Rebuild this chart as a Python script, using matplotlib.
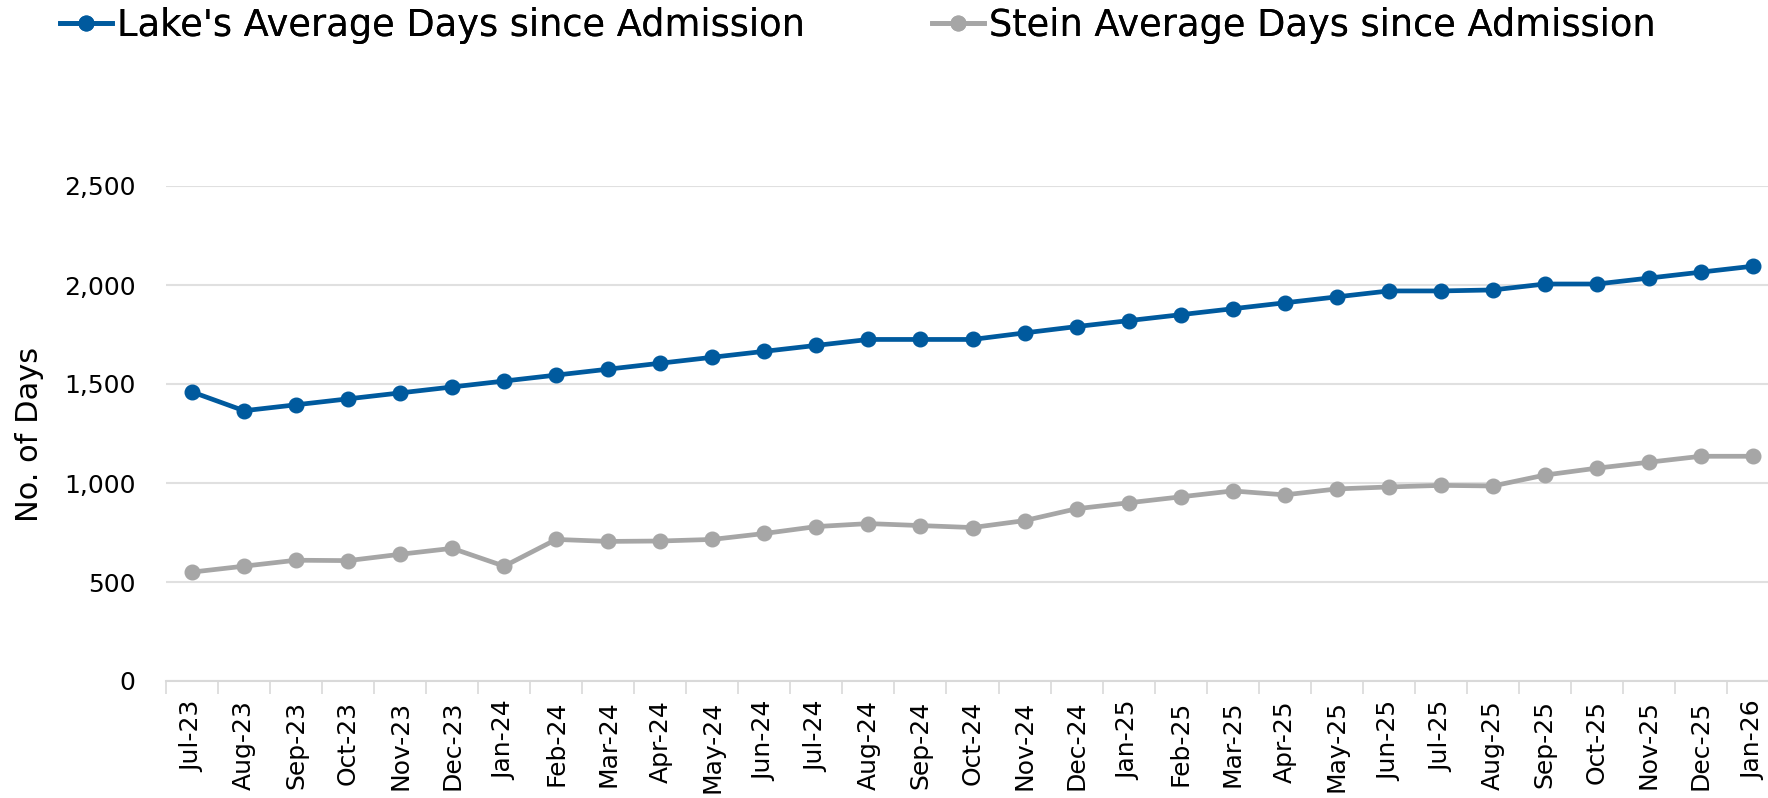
import numpy as np
import matplotlib
matplotlib.use("Agg")
import matplotlib.pyplot as plt
from matplotlib.lines import Line2D
from matplotlib.ticker import FuncFormatter, FixedLocator

months = ["Jul-23", "Aug-23", "Sep-23", "Oct-23", "Nov-23", "Dec-23",
          "Jan-24", "Feb-24", "Mar-24", "Apr-24", "May-24", "Jun-24",
          "Jul-24", "Aug-24", "Sep-24", "Oct-24", "Nov-24", "Dec-24",
          "Jan-25", "Feb-25", "Mar-25", "Apr-25", "May-25", "Jun-25",
          "Jul-25", "Aug-25", "Sep-25", "Oct-25", "Nov-25", "Dec-25",
          "Jan-26"]

lake_days = [1460, 1365, 1395, 1425, 1455, 1485, 1515, 1545, 1575, 1605,
             1635, 1665, 1695, 1725, 1725, 1725, 1758, 1790, 1820, 1850,
             1880, 1910, 1940, 1970, 1970, 1975, 2005, 2005, 2035, 2065,
             2095]

stein_days = [550, 580, 610, 608, 640, 670, 580, 715, 705, 707,
              715, 745, 780, 795, 785, 775, 810, 870, 900, 930,
              960, 940, 970, 980, 988, 985, 1040, 1075, 1105, 1135,
              1135]

blue = "#005a9e"
grey = "#a6a6a6"

plt.rcParams["font.family"] = ["DejaVu Sans"]

fig = plt.figure(figsize=(17.68, 7.98), dpi=100)
# axes runs a little past the right edge of the figure, as in the original
ax = fig.add_axes([166 / 1768, 1 - 681 / 798, (1779 - 166) / 1768, (681 - 186) / 798])

x = np.arange(len(months))
ax.plot(x, lake_days, color=blue, lw=3.4, marker="o", ms=10.5, zorder=3)
ax.plot(x, stein_days, color=grey, lw=3.4, marker="o", ms=10.5, zorder=3)

ax.set_xlim(-0.5, len(months) - 0.5)
ax.set_ylim(0, 2500)
ax.set_yticks([0, 500, 1000, 1500, 2000, 2500])
ax.yaxis.set_major_formatter(FuncFormatter(lambda v, p: f"{int(v):,}"))
ax.grid(axis="y", color="#e0e0e0", lw=1.5, zorder=0)

ax.set_xticks(x)
ax.set_xticklabels(months, rotation=90, fontsize=18)
ax.xaxis.set_minor_locator(FixedLocator(np.arange(-0.5, len(months), 1.0)))
ax.tick_params(axis="x", which="major", length=0, pad=14)
ax.tick_params(axis="x", which="minor", length=9, width=1.2, color="#d9d9d9")
ax.tick_params(axis="y", length=0, labelsize=18, pad=22)

for s in ["top", "right", "left"]:
    ax.spines[s].set_visible(False)
ax.spines["bottom"].set_color("#d9d9d9")
ax.spines["bottom"].set_linewidth(1.5)

fig.text(30 / 1768, 1 - 434 / 798, "No. of Days", rotation=90, fontsize=22,
         ha="center", va="center")

# two separate legend entries so their positions stay fixed
for label, col, x0 in [("Lake's Average Days since Admission", blue, 60 / 1768),
                       ("Stein Average Days since Admission", grey, 932 / 1768)]:
    h = Line2D([], [], color=col, lw=3.4, marker="o", ms=10.5)
    leg = fig.legend([h], [label], loc="center left", bbox_to_anchor=(x0, 1 - 25 / 798),
                     frameon=False, fontsize=26.5, handlelength=1.4, handletextpad=0.15,
                     borderpad=0, borderaxespad=0)
    fig.add_artist(leg)

fig.savefig("out.png", dpi=100)
